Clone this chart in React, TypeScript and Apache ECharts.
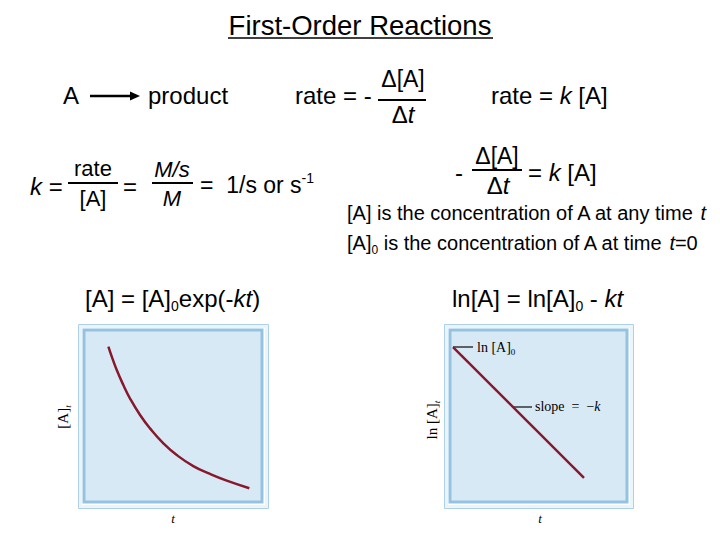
import React, { useEffect, useRef } from "react";
import * as echarts from "echarts";

// Left panel: [A]t versus t (exponential decay)
const decayTime = [1.37, 1.56, 1.84, 2.21, 2.58, 3.15, 3.71, 4.46, 5.21, 6.14, 7.08, 8.02, 9.29];
const decayConc = [9.03, 8.45, 7.67, 6.8, 6.03, 5.06, 4.28, 3.41, 2.73, 2.09, 1.63, 1.24, 0.8];
// Right panel: ln[A]t versus t (straight line)
const lnTime = [0.17, 7.57];
const lnConc = [9.0, 1.4];

const SANS = "Liberation Sans, Arial, sans-serif";
const SERIF = "Liberation Serif, Times New Roman, serif";
const LINE_COLOR = "#861a2c";
const BAND = "#94c3e2";
const FILL = "#d8e9f6";

function txt(x: number, y: number, text: string, size: number, extra: any = {}, rich?: any) {
  return {
    type: "text",
    x,
    y,
    silent: true,
    style: {
      text,
      fontSize: size,
      fontFamily: SANS,
      fill: "#000",
      align: "left",
      verticalAlign: "middle",
      rich,
      ...extra,
    },
  };
}
function hline(x1: number, x2: number, y: number, w = 2, color = "#000") {
  return {
    type: "line",
    silent: true,
    shape: { x1, y1: y, x2, y2: y },
    style: { stroke: color, lineWidth: w },
  };
}

const richMain = (size: number, lh: number) => ({
  n: { fontSize: size, fontFamily: SANS, lineHeight: lh },
  i: { fontSize: size, fontFamily: SANS, fontStyle: "italic", lineHeight: lh },
  sub: { fontSize: Math.round(size * 0.6), fontFamily: SANS, verticalAlign: "bottom", lineHeight: lh },
  sup: { fontSize: Math.round(size * 0.6), fontFamily: SANS, verticalAlign: "top", lineHeight: lh },
});

export default function App() {
  const ref = useRef<HTMLDivElement>(null);
  useEffect(() => {
    if (!ref.current) return;
    const chart = echarts.init(ref.current, undefined, { renderer: "svg" });
    const r24 = richMain(24, 30);
    const r20 = richMain(20, 26);
    const serifRich = {
      n: { fontSize: 15, fontFamily: SERIF, lineHeight: 18 },
      i: { fontSize: 13, fontFamily: SERIF, fontStyle: "italic", lineHeight: 16 },
      sub: { fontSize: 9, fontFamily: SERIF, fontStyle: "italic", verticalAlign: "bottom", lineHeight: 18 },
      sub0: { fontSize: 9, fontFamily: SERIF, verticalAlign: "bottom", lineHeight: 18 },
      m: { fontSize: 14, fontFamily: SERIF, lineHeight: 18 },
      mi: { fontSize: 14, fontFamily: SERIF, fontStyle: "italic", lineHeight: 18 },
    };

    const graphics: any[] = [
      // title
      txt(360, 25, "First-Order Reactions", 27.5, { align: "center" }),
      hline(228, 493, 38, 1.5),
      // A -> product
      txt(63, 95, "A", 24),
      hline(90, 132, 96, 2.5),
      {
        type: "polygon",
        silent: true,
        shape: { points: [[130, 91.5], [140, 96], [130, 100.5]] },
        style: { fill: "#000" },
      },
      txt(148, 95, "product", 24),
      // rate = - Δ[A]/Δt
      txt(295, 95, "rate = -", 24),
      txt(403, 79, "Δ[A]", 23, { align: "center" }),
      hline(378, 426, 100, 2),
      txt(403, 114, "{n|Δ}{i|t}", 23, { align: "center" }, r24),
      // rate = k [A]
      txt(491, 95, "{n|rate = }{i|k}{n| [A]}", 24, {}, r24),
      // k = rate/[A] = (M/s)/M = 1/s or s-1
      txt(30, 186, "{i|k}{n| =}", 24, {}, r24),
      txt(93, 168, "rate", 22, { align: "center" }),
      hline(68, 118, 183, 2),
      txt(93, 198, "[A]", 22, { align: "center" }),
      txt(123, 186, "=", 24),
      txt(172, 169, "M/s", 22, { align: "center", fontStyle: "italic" }),
      hline(152, 193, 183, 2),
      txt(172, 198, "M", 22, { align: "center", fontStyle: "italic" }),
      txt(200, 185, "{n|=  1/s or s}{sup|-1}", 23, {}, richMain(23, 28)),
      // - Δ[A]/Δt = k [A]
      txt(455, 172, "-", 24),
      txt(497, 156, "Δ[A]", 23, { align: "center" }),
      hline(472, 522, 170, 2),
      txt(498, 185, "{n|Δ}{i|t}", 23, { align: "center" }, r24),
      txt(528, 172, "{n|= }{i|k}{n| [A]}", 24, {}, r24),
      // descriptions
      txt(347, 213, "{n|[A] is the concentration of A at any time }{i|t}", 20, {}, r20),
      txt(347, 243, "{n|[A]}{sub|0}{n| is the concentration of A at time }{i|t}{n|=0}", 20, {}, r20),
      // equations above the panels
      txt(85, 298, "{n|[A] = [A]}{sub|0}{n|exp(-}{i|kt}{n|)}", 24, {}, r24),
      txt(452, 298, "{n|ln[A] = ln[A]}{sub|0}{n| - }{i|kt}", 24, {}, r24),
      // panel frames (outer light edges)
      {
        type: "rect", silent: true,
        shape: { x: 78.5, y: 324.5, width: 190, height: 184 },
        style: { fill: "none", stroke: "#aed0e8", lineWidth: 1 },
      },
      {
        type: "rect", silent: true,
        shape: { x: 80.5, y: 326.5, width: 186, height: 180 },
        style: { fill: "none", stroke: "#eaf4fb", lineWidth: 3 },
      },
      {
        type: "rect", silent: true,
        shape: { x: 444.5, y: 324.5, width: 189, height: 184 },
        style: { fill: "none", stroke: "#aed0e8", lineWidth: 1 },
      },
      {
        type: "rect", silent: true,
        shape: { x: 446.5, y: 326.5, width: 185, height: 180 },
        style: { fill: "none", stroke: "#eaf4fb", lineWidth: 3 },
      },
      // panel axis labels
      {
        ...txt(63, 417, "{n|[A]}{sub|t}", 15, { align: "center", fontFamily: SERIF }, serifRich),
        rotation: Math.PI / 2,
      },
      txt(173, 518, "{i|t}", 13, { align: "center" }, serifRich),
      {
        ...txt(432, 420, "{n|ln [A]}{sub|t}", 15, { align: "center", fontFamily: SERIF }, serifRich),
        rotation: Math.PI / 2,
      },
      txt(540, 518, "{i|t}", 13, { align: "center" }, serifRich),
      // annotations on right panel
      hline(453, 473, 347, 1.5, "#333"),
      txt(477, 347, "{m|ln [A]}{sub0|0}", 14, {}, serifRich),
      hline(513, 532, 407, 1.5, "#333"),
      txt(535, 406, "{m|slope  =  −}{mi|k}", 14, {}, serifRich),
    ];

    const axisBase = { type: "value", min: 0, max: 10, show: false };
    chart.setOption({
      animation: false,
      backgroundColor: "#ffffff",
      grid: [
        { left: 84, top: 330, width: 178, height: 172, show: true, backgroundColor: FILL, borderColor: BAND, borderWidth: 3 },
        { left: 450, top: 330, width: 177, height: 172, show: true, backgroundColor: FILL, borderColor: BAND, borderWidth: 3 },
      ],
      xAxis: [
        { ...axisBase, gridIndex: 0 },
        { ...axisBase, gridIndex: 1 },
      ],
      yAxis: [
        { ...axisBase, gridIndex: 0 },
        { ...axisBase, gridIndex: 1 },
      ],
      series: [
        {
          type: "line",
          xAxisIndex: 0,
          yAxisIndex: 0,
          data: decayTime.map((t, i) => [t, decayConc[i]]),
          smooth: true,
          showSymbol: false,
          lineStyle: { color: LINE_COLOR, width: 2.5 },
        },
        {
          type: "line",
          xAxisIndex: 1,
          yAxisIndex: 1,
          data: lnTime.map((t, i) => [t, lnConc[i]]),
          showSymbol: false,
          lineStyle: { color: LINE_COLOR, width: 2.5 },
        },
      ],
      graphic: graphics,
    });
    return () => chart.dispose();
  }, []);
  return (
    <div
      ref={ref}
      style={{ position: "fixed", left: 0, top: 0, width: 720, height: 540, background: "#fff" }}
    />
  );
}
